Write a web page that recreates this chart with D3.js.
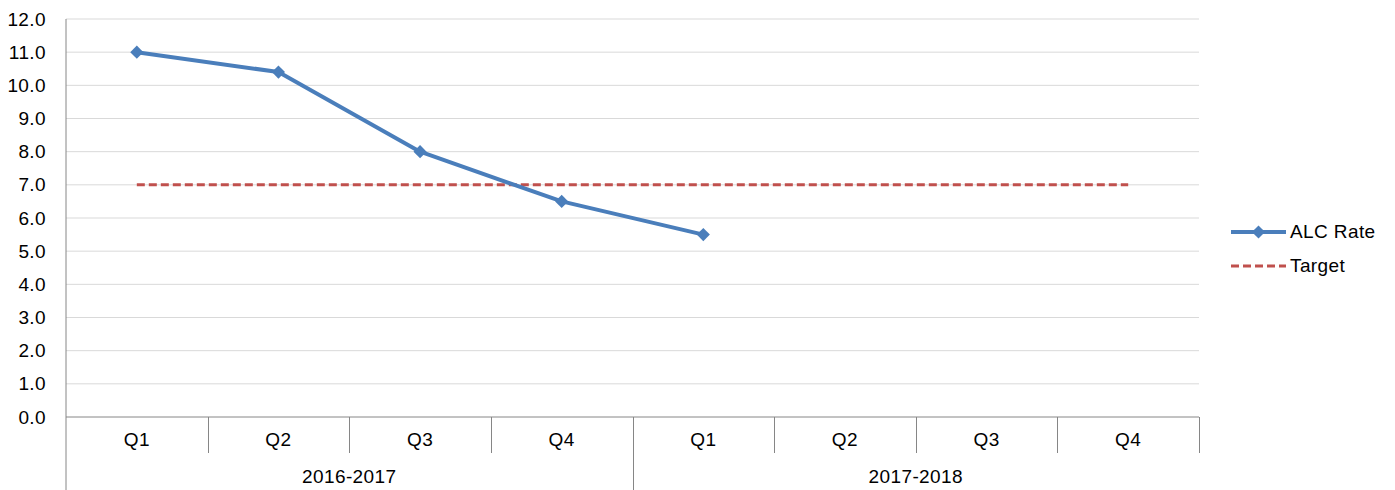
<!DOCTYPE html>
<html>
<head>
<meta charset="utf-8">
<script src="https://cdn.jsdelivr.net/npm/d3@7"></script>
<style>
  html, body { margin: 0; padding: 0; background: #fff; }
  svg { display: block; font-family: "Liberation Sans", Arial, sans-serif; }
  text { letter-spacing: 0.4px; }
</style>
</head>
<body>
<svg id="chart" width="1395" height="490"></svg>
<script>
// Quarterly ALC rate against target
const years = ["2016-2017", "2017-2018"];
const quarters = ["Q1", "Q2", "Q3", "Q4"];
const alcRate = [11.0, 10.4, 8.0, 6.5, 5.5];
const target = [7.0, 7.0, 7.0, 7.0, 7.0, 7.0, 7.0, 7.0];
const yTicks = [0, 1, 2, 3, 4, 5, 6, 7, 8, 9, 10, 11, 12];

const categories = years.flatMap(y => quarters.map(q => y + "|" + q));

const svg = d3.select("#chart");
const margin = { left: 66, right: 196, top: 19, bottom: 73 };
const W = 1395, H = 490;
const FS = 19;

const x = d3.scaleBand()
  .domain(categories)
  .range([margin.left, W - margin.right])
  .paddingInner(0).paddingOuter(0);

const y = d3.scaleLinear()
  .domain([0, 12])
  .range([H - margin.bottom, margin.top]);

const gridColor = "#d9d9d9";
const axisColor = "#868686";

// horizontal gridlines
svg.append("g")
  .selectAll("line")
  .data(yTicks.slice(1))
  .join("line")
  .attr("x1", margin.left).attr("x2", W - margin.right)
  .attr("y1", d => y(d)).attr("y2", d => y(d))
  .attr("stroke", gridColor).attr("stroke-width", 1);

// y axis labels
const yAxis = d3.axisLeft(y).tickValues(yTicks).tickFormat(d3.format(".1f")).tickSize(0).tickPadding(20);
const gy = svg.append("g").attr("transform", `translate(${margin.left},0)`).call(yAxis);
gy.select(".domain").remove();
gy.selectAll("text").attr("font-size", FS).attr("fill", "#000")
  .attr("font-family", "Liberation Sans, Arial, sans-serif");

// left axis line extends through category area
svg.append("line")
  .attr("x1", margin.left).attr("x2", margin.left)
  .attr("y1", margin.top).attr("y2", H)
  .attr("stroke", axisColor).attr("stroke-width", 1);

// baseline
svg.append("line")
  .attr("x1", margin.left).attr("x2", W - margin.right)
  .attr("y1", y(0)).attr("y2", y(0))
  .attr("stroke", axisColor).attr("stroke-width", 1);

// quarter separators (short) and year separators (full)
const bw = x.bandwidth();
const sepG = svg.append("g");
categories.forEach((c, i) => {
  if (i === 0) return;
  const xx = Math.round(x(c)) + 0.5;
  const isYear = i % quarters.length === 0;
  sepG.append("line")
    .attr("x1", xx).attr("x2", xx)
    .attr("y1", y(0)).attr("y2", isYear ? H : y(0) + 36)
    .attr("stroke", axisColor).attr("stroke-width", 1);
});
// right end separator
const xr = Math.round(W - margin.right) + 0.5;
sepG.append("line").attr("x1", xr).attr("x2", xr)
  .attr("y1", y(0)).attr("y2", y(0) + 36)
  .attr("stroke", axisColor).attr("stroke-width", 1);

// quarter labels
svg.append("g").selectAll("text")
  .data(categories)
  .join("text")
  .attr("x", d => x(d) + bw / 2)
  .attr("y", y(0) + 29)
  .attr("text-anchor", "middle")
  .attr("font-size", FS)
  .text(d => d.split("|")[1]);

// year labels
svg.append("g").selectAll("text")
  .data(years)
  .join("text")
  .attr("x", (d, i) => x(d + "|Q1") + bw * quarters.length / 2)
  .attr("y", y(0) + 66)
  .attr("text-anchor", "middle")
  .attr("font-size", FS)
  .text(d => d);

// target line
const line = d3.line().x((d, i) => x(categories[i]) + bw / 2).y(d => y(d));
svg.append("path")
  .datum(target)
  .attr("d", line)
  .attr("fill", "none")
  .attr("stroke", "#c0504d")
  .attr("stroke-width", 3)
  .attr("stroke-dasharray", "8,4");

// ALC rate line
const blue = "#4a7ebb";
svg.append("path")
  .datum(alcRate)
  .attr("d", line)
  .attr("fill", "none")
  .attr("stroke", blue)
  .attr("stroke-width", 4)
  .attr("stroke-linejoin", "round");

const diamond = d3.symbol().type(d3.symbolDiamond2).size(110);
svg.append("g").selectAll("path")
  .data(alcRate)
  .join("path")
  .attr("transform", (d, i) => `translate(${x(categories[i]) + bw / 2},${y(d)})`)
  .attr("d", diamond)
  .attr("fill", blue);

// legend
const lg = svg.append("g");
const lx1 = 1231, lx2 = 1286;
lg.append("line").attr("x1", lx1).attr("x2", lx2).attr("y1", 232).attr("y2", 232)
  .attr("stroke", blue).attr("stroke-width", 4);
lg.append("path").attr("transform", `translate(${(lx1 + lx2) / 2},232)`).attr("d", diamond).attr("fill", blue);
lg.append("text").attr("x", 1290).attr("y", 238).attr("font-size", FS).text("ALC Rate");
lg.append("line").attr("x1", lx1).attr("x2", lx2).attr("y1", 266).attr("y2", 266)
  .attr("stroke", "#c0504d").attr("stroke-width", 3).attr("stroke-dasharray", "8,4");
lg.append("text").attr("x", 1290).attr("y", 272).attr("font-size", FS).text("Target");
</script>
</body>
</html>
